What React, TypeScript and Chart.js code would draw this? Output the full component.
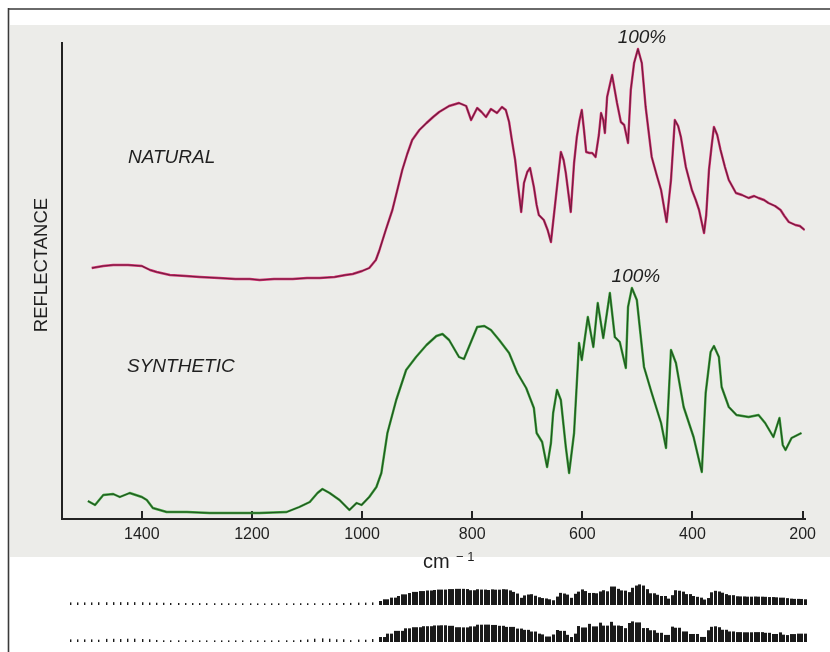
import React, { useEffect, useRef } from "react";
import { Chart, registerables } from "chart.js";

Chart.register(...registerables);

// ---------- data ----------
const xAxisTicks = [1400, 1200, 1000, 800, 600, 400, 200];
const xAxisMin = 196;
const xAxisMax = 1545;
const yAxisMin = 0;
const yAxisMax = 476;

const naturalWavenumber = [
  1491, 1470, 1452, 1425, 1400, 1385, 1373, 1349, 1320, 1295, 1260, 1230, 1204, 1186, 1160, 1126, 1100, 1077, 1050, 1030,
  1017, 1000, 987, 975, 969, 957, 945, 936, 927, 918, 909, 896, 883, 871, 860, 842, 824, 811, 802, 791,
  783, 775, 766, 755, 746, 739, 733, 728, 722, 718, 711, 706, 700, 695, 688, 683, 679, 670, 663, 657,
  648, 639, 634, 630, 621, 615, 610, 605, 601, 597, 593, 587, 582, 576, 570, 566, 562, 559, 555, 546,
  537, 530, 524, 517, 512, 506, 499, 492, 485, 474, 465, 457, 447, 439, 432, 426, 421, 412, 401, 394,
  388, 379, 375, 370, 365, 361, 355, 349, 341, 334, 321, 310, 298, 288, 280, 270, 262, 250, 240, 233,
  225, 213, 205, 196,
];
const naturalReflectance = [
  251, 253, 254, 254, 253, 249, 247, 244, 243, 242, 241, 240, 240, 239, 240, 240, 241, 241, 242, 244,
  245, 248, 251, 259, 268, 289, 309, 329, 349, 365, 379, 389, 396, 402, 407, 413, 416, 413, 399, 411,
  407, 402, 410, 406, 412, 409, 397, 379, 359, 339, 307, 336, 347, 351, 332, 314, 304, 299, 289, 277,
  322, 367, 359, 346, 307, 356, 382, 399, 409, 389, 367, 366, 366, 362, 384, 406, 399, 386, 422, 444,
  416, 397, 394, 376, 429, 456, 470, 456, 412, 362, 344, 329, 297, 339, 399, 393, 382, 352, 329, 319,
  309, 286, 304, 349, 374, 392, 384, 369, 352, 339, 326, 324, 321, 323, 321, 319, 316, 313, 309, 303,
  297, 294, 293, 289,
];

const syntheticWavenumber = [
  1498, 1485, 1470, 1452, 1440, 1422, 1400, 1391, 1380, 1355, 1318, 1277, 1235, 1186, 1137, 1114, 1095, 1081, 1072, 1059,
  1041, 1023, 1010, 1001, 987, 974, 965, 954, 938, 920, 902, 883, 865, 854, 842, 824, 815, 806, 791, 778,
  766, 751, 733, 718, 702, 688, 683, 673, 664, 657, 653, 646, 639, 630, 624, 615, 606, 601, 590, 580,
  572, 562, 550, 541, 532, 521, 517, 510, 501, 488, 474, 457, 448, 439, 430, 416, 398, 383, 376, 367,
  361, 352, 347, 334, 320, 298, 280, 268, 253, 242, 236, 231, 220, 202,
];
const syntheticReflectance = [
  18, 14, 24, 25, 22, 26, 22, 19, 11, 7, 7, 6, 6, 6, 7, 12, 17, 26, 30, 26,
  19, 9, 16, 14, 22, 32, 46, 86, 119, 149, 162, 174, 183, 185, 179, 162, 160, 172, 192, 193,
  189, 179, 166, 146, 131, 111, 86, 77, 52, 76, 106, 129, 119, 72, 46, 86, 176, 159, 202, 172,
  216, 181, 226, 182, 177, 151, 212, 231, 219, 152, 126, 96, 71, 169, 156, 112, 82, 47, 126, 167,
  173, 162, 132, 112, 104, 102, 104, 96, 82, 101, 74, 69, 81, 86,
];

const seriesNames = ["NATURAL", "SYNTHETIC"];
const peakText = "100%";
const yTitle = "REFLECTANCE";
const xTitleMain = "cm";
const xTitleSup = "\u2212 1";

// ---------- helpers ----------
const toPoints = (xs: number[], ys: number[]) => xs.map((x, i) => ({ x, y: ys[i] }));

const FONT = "'Liberation Sans', Arial, Helvetica, sans-serif";

const paperPlugin = {
  id: "paper",
  beforeDraw(chart: any) {
    const { ctx, width, height } = chart;
    ctx.save();
    ctx.fillStyle = "#ffffff";
    ctx.fillRect(0, 0, width, height);
    ctx.fillStyle = "#ecece9";
    ctx.fillRect(10, 25, width - 10, 532);
    ctx.strokeStyle = "#3a3a3a";
    ctx.lineWidth = 1.6;
    ctx.beginPath();
    ctx.moveTo(8.5, 8);
    ctx.lineTo(8.5, height);
    ctx.moveTo(8, 9);
    ctx.lineTo(width, 9);
    ctx.stroke();
    ctx.restore();
  },
};

const annotationPlugin = {
  id: "annotations",
  afterDraw(chart: any) {
    const { ctx } = chart;
    const xs = chart.scales.x;
    const ys = chart.scales.y;
    ctx.save();
    ctx.fillStyle = "#1f1f1f";
    ctx.textBaseline = "alphabetic";

    ctx.font = `italic 19px ${FONT}`;
    ctx.textAlign = "left";
    ctx.fillText(seriesNames[0], 128, 163);
    ctx.fillText(seriesNames[1], 127, 372);

    const series = [
      [naturalWavenumber, naturalReflectance],
      [syntheticWavenumber, syntheticReflectance],
    ];
    ctx.textAlign = "center";
    for (const [wx, ry] of series) {
      let k = 0;
      for (let i = 1; i < ry.length; i++) if (ry[i] > ry[k]) k = i;
      const px = xs.getPixelForValue(wx[k]);
      const py = ys.getPixelForValue(ry[k]);
      ctx.fillText(peakText, px + 4, py - 6);
    }

    ctx.save();
    ctx.translate(47, 265);
    ctx.rotate(-Math.PI / 2);
    ctx.font = `18.5px ${FONT}`;
    ctx.textAlign = "center";
    ctx.fillText(yTitle, 0, 0);
    ctx.restore();

    ctx.textAlign = "left";
    ctx.font = `20px ${FONT}`;
    ctx.fillText(xTitleMain, 423, 568);
    ctx.font = `13px ${FONT}`;
    ctx.fillText(xTitleSup, 456, 561);
    ctx.restore();
  },
};

// Barcode strips: each column takes the value of the nearest measured point (no new values)
const stripPlugin = {
  id: "strips",
  afterDraw(chart: any) {
    const { ctx, chartArea } = chart;
    const xs = chart.scales.x;
    const strips = [
      { w: naturalWavenumber, r: naturalReflectance, base: 605 },
      { w: syntheticWavenumber, r: syntheticReflectance, base: 642 },
    ];
    ctx.save();
    ctx.fillStyle = "#1a1a1a";
    for (const s of strips) {
      const lo = Math.min(...s.r);
      const hi = Math.max(...s.r);
      const px = s.w.map((v) => xs.getPixelForValue(v));
      for (let x = chartArea.left + 4; x <= chartArea.right; x += 3.6) {
        let k = 0;
        let best = Infinity;
        for (let i = 0; i < px.length; i++) {
          const d = Math.abs(px[i] - x);
          if (d < best) {
            best = d;
            k = i;
          }
        }
        const t = (s.r[k] - lo) / (hi - lo);
        const h = 1.6 + 19 * t;
        const w = t < 0.12 ? 1.4 : 3;
        if (t < 0.12 && Math.round((x - chartArea.left) / 3.6) % 2 === 1) continue;
        ctx.fillRect(Math.round(x), s.base - h, w, h);
      }
    }
    ctx.restore();
  },
};

export default function App() {
  const canvasRef = useRef<HTMLCanvasElement | null>(null);

  useEffect(() => {
    const canvas = canvasRef.current;
    if (!canvas) return;
    const natural = toPoints(naturalWavenumber, naturalReflectance);
    const synthetic = toPoints(syntheticWavenumber, syntheticReflectance);
    const lineBase = { pointRadius: 0, tension: 0, fill: false, borderJoinStyle: "round" as const };

    const chart = new Chart(canvas, {
      type: "line",
      data: {
        datasets: [
          { ...lineBase, label: "NATURAL", data: natural, borderColor: "#d0306f", borderWidth: 2.4, order: 2 },
          { ...lineBase, label: "NATURAL core", data: natural, borderColor: "rgba(30,12,20,0.55)", borderWidth: 1.1, order: 1 },
          { ...lineBase, label: "SYNTHETIC", data: synthetic, borderColor: "#3ea23c", borderWidth: 2.4, order: 2 },
          { ...lineBase, label: "SYNTHETIC core", data: synthetic, borderColor: "rgba(12,28,14,0.6)", borderWidth: 1.1, order: 1 },
        ],
      },
      options: {
        responsive: false,
        animation: false,
        devicePixelRatio: 1,
        layout: { padding: { top: 43, left: 0, right: 24, bottom: 0 } },
        plugins: { legend: { display: false }, tooltip: { enabled: false } },
        scales: {
          x: {
            type: "linear",
            reverse: true,
            min: xAxisMin,
            max: xAxisMax,
            afterBuildTicks: (scale: any) => {
              scale.ticks = xAxisTicks.map((value) => ({ value }));
            },
            afterFit: (scale: any) => {
              scale.height = 133;
            },
            ticks: {
              color: "#1f1f1f",
              font: { family: FONT, size: 16 },
              padding: 14,
              maxRotation: 0,
              autoSkip: false,
              callback: (v: any) => String(v),
            },
            grid: {
              display: true,
              drawOnChartArea: false,
              drawTicks: true,
              tickLength: -8,
              color: "#222",
              lineWidth: 2,
            },
            border: { display: true, color: "#222", width: 2 },
          },
          y: {
            type: "linear",
            min: yAxisMin,
            max: yAxisMax,
            afterFit: (scale: any) => {
              scale.width = 62;
            },
            ticks: { display: false },
            grid: { display: false },
            border: { display: true, color: "#222", width: 2 },
          },
        },
      },
      plugins: [paperPlugin, stripPlugin, annotationPlugin],
    });
    return () => chart.destroy();
  }, []);

  return (
    <div style={{ position: "fixed", left: 0, top: 0, width: 830, height: 652, overflow: "hidden", background: "#fff" }}>
      <canvas ref={canvasRef} width={830} height={652} style={{ display: "block", width: 830, height: 652 }} />
    </div>
  );
}
